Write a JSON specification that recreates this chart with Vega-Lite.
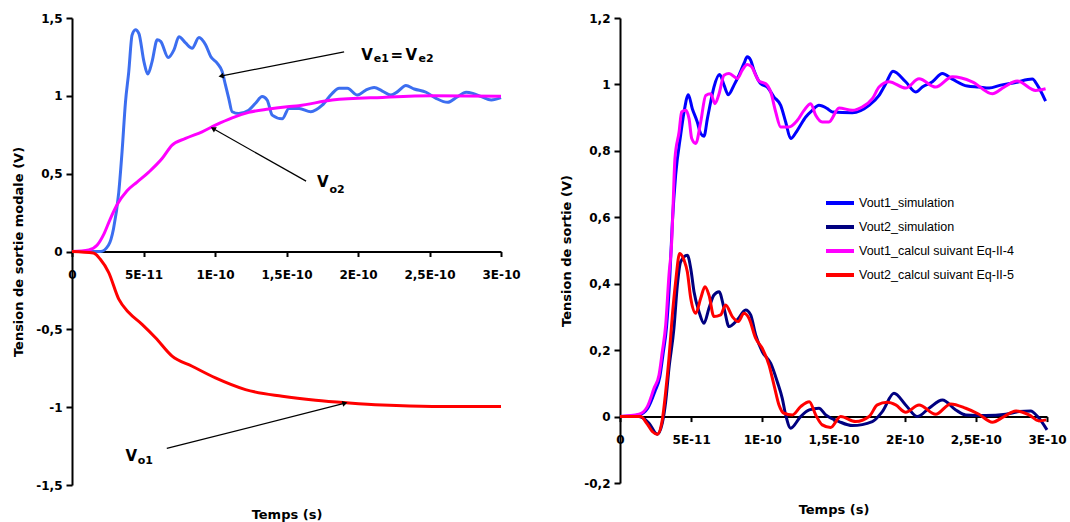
{
  "$schema": "https://vega.github.io/schema/vega-lite/v6.json",
  "background": "white",
  "padding": {"left": 12, "top": 12, "right": 0, "bottom": 0},
  "spacing": 119,
  "bounds": "flush",
  "datasets": {
    "ve": [
      {"t": 0, "v": 0}, {"t": 20e-12, "v": 0}, {"t": 25.5e-12, "v": 0.04}, {"t": 29e-12, "v": 0.145}, {"t": 32.7e-12, "v": 0.38},
      {"t": 35e-12, "v": 0.64}, {"t": 37.4e-12, "v": 0.96}, {"t": 39.7e-12, "v": 1.156}, {"t": 42e-12, "v": 1.39}, {"t": 44.4e-12, "v": 1.425},
      {"t": 46.8e-12, "v": 1.4}, {"t": 50.3e-12, "v": 1.22}, {"t": 53e-12, "v": 1.14}, {"t": 56e-12, "v": 1.22}, {"t": 59.6e-12, "v": 1.36},
      {"t": 62e-12, "v": 1.35}, {"t": 67.3e-12, "v": 1.246}, {"t": 71.3e-12, "v": 1.295}, {"t": 74.8e-12, "v": 1.38}, {"t": 79.4e-12, "v": 1.34},
      {"t": 84e-12, "v": 1.306}, {"t": 88.8e-12, "v": 1.375}, {"t": 93.4e-12, "v": 1.328}, {"t": 97e-12, "v": 1.253}, {"t": 101.5e-12, "v": 1.21},
      {"t": 105e-12, "v": 1.156}, {"t": 107.3e-12, "v": 1.07}, {"t": 109.6e-12, "v": 0.984}, {"t": 112e-12, "v": 0.898}, {"t": 116.6e-12, "v": 0.887},
      {"t": 123.6e-12, "v": 0.908}, {"t": 128.3e-12, "v": 0.952}, {"t": 133e-12, "v": 0.995}, {"t": 136.5e-12, "v": 0.973}, {"t": 140e-12, "v": 0.876},
      {"t": 147e-12, "v": 0.852}, {"t": 151.7e-12, "v": 0.919}, {"t": 158.8e-12, "v": 0.919}, {"t": 167e-12, "v": 0.898}, {"t": 175e-12, "v": 0.94},
      {"t": 182e-12, "v": 1.016}, {"t": 186.8e-12, "v": 1.048}, {"t": 192.6e-12, "v": 1.048}, {"t": 199.6e-12, "v": 1.005}, {"t": 205.5e-12, "v": 1.037},
      {"t": 211.3e-12, "v": 1.053}, {"t": 217e-12, "v": 1.031}, {"t": 223e-12, "v": 1.005}, {"t": 227.7e-12, "v": 1.027}, {"t": 233.5e-12, "v": 1.066},
      {"t": 239.3e-12, "v": 1.044}, {"t": 247.6e-12, "v": 1.023}, {"t": 254.6e-12, "v": 0.984}, {"t": 262.7e-12, "v": 0.958}, {"t": 269.7e-12, "v": 0.995},
      {"t": 275.6e-12, "v": 1.023}, {"t": 280.3e-12, "v": 1.016}, {"t": 286.2e-12, "v": 0.995}, {"t": 293.2e-12, "v": 0.973}, {"t": 300e-12, "v": 0.988}
    ],
    "vo2": [
      {"t": 0, "v": 0}, {"t": 11.7e-12, "v": 0.01}, {"t": 17.5e-12, "v": 0.04}, {"t": 22.2e-12, "v": 0.11}, {"t": 26.8e-12, "v": 0.21},
      {"t": 31.5e-12, "v": 0.3}, {"t": 38.5e-12, "v": 0.39}, {"t": 45.5e-12, "v": 0.446}, {"t": 53.7e-12, "v": 0.51}, {"t": 63e-12, "v": 0.597},
      {"t": 70e-12, "v": 0.683}, {"t": 79.4e-12, "v": 0.726}, {"t": 91e-12, "v": 0.769}, {"t": 100.3e-12, "v": 0.812}, {"t": 112e-12, "v": 0.859},
      {"t": 123.6e-12, "v": 0.894}, {"t": 137.6e-12, "v": 0.915}, {"t": 150.5e-12, "v": 0.93}, {"t": 158.6e-12, "v": 0.937}, {"t": 182e-12, "v": 0.973},
      {"t": 217e-12, "v": 0.99}, {"t": 252e-12, "v": 1.0}, {"t": 300e-12, "v": 0.997}
    ],
    "vo1": [
      {"t": 0, "v": 0}, {"t": 15e-12, "v": -0.01}, {"t": 19.8e-12, "v": -0.05}, {"t": 25.6e-12, "v": -0.134}, {"t": 32.7e-12, "v": -0.306},
      {"t": 39.7e-12, "v": -0.392}, {"t": 49e-12, "v": -0.468}, {"t": 58.4e-12, "v": -0.554}, {"t": 70e-12, "v": -0.672}, {"t": 84e-12, "v": -0.737},
      {"t": 100.3e-12, "v": -0.812}, {"t": 121.3e-12, "v": -0.887}, {"t": 147e-12, "v": -0.93}, {"t": 170.4e-12, "v": -0.956}, {"t": 193.8e-12, "v": -0.973},
      {"t": 217e-12, "v": -0.986}, {"t": 252e-12, "v": -0.995}, {"t": 300e-12, "v": -0.995}
    ],
    "arrows": [
      {"t": 190.3e-12, "v": 1.282, "t2": 104.8e-12, "v2": 1.128},
      {"t": 163.7e-12, "v": 0.452, "t2": 99.2e-12, "v2": 0.787},
      {"t": 66.3e-12, "v": -1.265, "t2": 190.3e-12, "v2": -0.976}
    ],
    "big": [
      {"t": 202.2e-12, "v": 1.232, "txt": "V"}, {"t": 222.7e-12, "v": 1.232, "txt": "="}, {"t": 233.2e-12, "v": 1.232, "txt": "V"},
      {"t": 171.4e-12, "v": 0.412, "txt": "V"}, {"t": 37.4e-12, "v": -1.347, "txt": "V"}
    ],
    "sub": [
      {"t": 211.1e-12, "v": 1.215, "txt": "e1"}, {"t": 242.3e-12, "v": 1.215, "txt": "e2"},
      {"t": 180.1e-12, "v": 0.379, "txt": "o2"}, {"t": 45.9e-12, "v": -1.368, "txt": "o1"}
    ],
    "vout1_sim": [
      {"t": 0, "v": 0}, {"t": 13.3e-12, "v": 0.005}, {"t": 19.5e-12, "v": 0.025}, {"t": 24.5e-12, "v": 0.075}, {"t": 28e-12, "v": 0.12},
      {"t": 30.3e-12, "v": 0.19}, {"t": 32.7e-12, "v": 0.27}, {"t": 35e-12, "v": 0.42}, {"t": 36.8e-12, "v": 0.586}, {"t": 39.1e-12, "v": 0.727},
      {"t": 42.6e-12, "v": 0.847}, {"t": 45e-12, "v": 0.917}, {"t": 48e-12, "v": 0.969}, {"t": 50.8e-12, "v": 0.927}, {"t": 54.3e-12, "v": 0.887},
      {"t": 56.7e-12, "v": 0.852}, {"t": 59e-12, "v": 0.844}, {"t": 61.4e-12, "v": 0.897}, {"t": 63.7e-12, "v": 0.947}, {"t": 66e-12, "v": 0.992},
      {"t": 70e-12, "v": 1.03}, {"t": 73.1e-12, "v": 0.998}, {"t": 76.1e-12, "v": 0.969}, {"t": 80.1e-12, "v": 0.998}, {"t": 83.6e-12, "v": 1.028},
      {"t": 87.1e-12, "v": 1.063}, {"t": 89.4e-12, "v": 1.083}, {"t": 91.8e-12, "v": 1.073}, {"t": 94.1e-12, "v": 1.043}, {"t": 98.9e-12, "v": 1.002},
      {"t": 103.5e-12, "v": 0.992}, {"t": 108.2e-12, "v": 0.962}, {"t": 112.9e-12, "v": 0.937}, {"t": 116.4e-12, "v": 0.887}, {"t": 119.9e-12, "v": 0.837},
      {"t": 124.6e-12, "v": 0.862}, {"t": 130.5e-12, "v": 0.902}, {"t": 135.1e-12, "v": 0.922}, {"t": 139.8e-12, "v": 0.937}, {"t": 145.7e-12, "v": 0.927},
      {"t": 149.2e-12, "v": 0.917}, {"t": 163.2e-12, "v": 0.915}, {"t": 175e-12, "v": 0.937}, {"t": 182e-12, "v": 0.967}, {"t": 186.7e-12, "v": 1.002},
      {"t": 191.8e-12, "v": 1.04}, {"t": 200.7e-12, "v": 1.008}, {"t": 207.8e-12, "v": 0.977}, {"t": 212.4e-12, "v": 0.992}, {"t": 219.5e-12, "v": 1.008},
      {"t": 226.5e-12, "v": 1.033}, {"t": 233.5e-12, "v": 1.016}, {"t": 244e-12, "v": 0.995}, {"t": 252.2e-12, "v": 0.992}, {"t": 259.3e-12, "v": 0.989},
      {"t": 267.5e-12, "v": 0.998}, {"t": 278e-12, "v": 1.006}, {"t": 289.7e-12, "v": 1.016}, {"t": 293.2e-12, "v": 0.998}, {"t": 299e-12, "v": 0.95}
    ],
    "vout2_sim": [
      {"t": 0, "v": 0}, {"t": 13.3e-12, "v": 0}, {"t": 20.4e-12, "v": -0.02}, {"t": 26.2e-12, "v": -0.053}, {"t": 29.7e-12, "v": -0.02},
      {"t": 32.1e-12, "v": 0.045}, {"t": 34.4e-12, "v": 0.145}, {"t": 37.9e-12, "v": 0.266}, {"t": 40.3e-12, "v": 0.396}, {"t": 42.6e-12, "v": 0.466},
      {"t": 47.3e-12, "v": 0.486}, {"t": 49.7e-12, "v": 0.446}, {"t": 52e-12, "v": 0.376}, {"t": 55.5e-12, "v": 0.316}, {"t": 59e-12, "v": 0.281},
      {"t": 62.5e-12, "v": 0.326}, {"t": 66e-12, "v": 0.366}, {"t": 69.6e-12, "v": 0.376}, {"t": 73.1e-12, "v": 0.326}, {"t": 76.6e-12, "v": 0.271},
      {"t": 82.4e-12, "v": 0.291}, {"t": 88.3e-12, "v": 0.321}, {"t": 91.8e-12, "v": 0.306}, {"t": 95.3e-12, "v": 0.246}, {"t": 100e-12, "v": 0.195},
      {"t": 105.9e-12, "v": 0.16}, {"t": 110.5e-12, "v": 0.105}, {"t": 114e-12, "v": 0.055}, {"t": 116.4e-12, "v": 0.005}, {"t": 119.9e-12, "v": -0.035},
      {"t": 126.9e-12, "v": 0}, {"t": 133e-12, "v": 0.02}, {"t": 139.8e-12, "v": 0.025}, {"t": 144.5e-12, "v": 0.005}, {"t": 153.9e-12, "v": -0.015},
      {"t": 163.2e-12, "v": -0.027}, {"t": 177.3e-12, "v": -0.015}, {"t": 184.3e-12, "v": 0.015}, {"t": 192.5e-12, "v": 0.07}, {"t": 200.7e-12, "v": 0.035},
      {"t": 208.9e-12, "v": 0}, {"t": 217.1e-12, "v": 0.025}, {"t": 226.5e-12, "v": 0.05}, {"t": 235.9e-12, "v": 0.02}, {"t": 242.9e-12, "v": 0.005},
      {"t": 257e-12, "v": 0.003}, {"t": 271e-12, "v": 0.007}, {"t": 280.3e-12, "v": 0.015}, {"t": 288.6e-12, "v": 0.017}, {"t": 293.4e-12, "v": 0},
      {"t": 300e-12, "v": -0.04}
    ],
    "vout1_calc": [
      {"t": 0, "v": 0}, {"t": 13.3e-12, "v": 0.007}, {"t": 19.2e-12, "v": 0.03}, {"t": 23.9e-12, "v": 0.085}, {"t": 27.4e-12, "v": 0.125},
      {"t": 29.7e-12, "v": 0.195}, {"t": 32.1e-12, "v": 0.276}, {"t": 34.4e-12, "v": 0.426}, {"t": 36.3e-12, "v": 0.526}, {"t": 37e-12, "v": 0.6},
      {"t": 38.6e-12, "v": 0.777}, {"t": 41.5e-12, "v": 0.857}, {"t": 43.3e-12, "v": 0.917}, {"t": 46.2e-12, "v": 0.922}, {"t": 48.5e-12, "v": 0.897},
      {"t": 50.4e-12, "v": 0.837}, {"t": 53.2e-12, "v": 0.822}, {"t": 56.7e-12, "v": 0.887}, {"t": 60.2e-12, "v": 0.967}, {"t": 63.7e-12, "v": 0.972},
      {"t": 66.7e-12, "v": 0.942}, {"t": 69.6e-12, "v": 0.972}, {"t": 73.1e-12, "v": 1.028}, {"t": 76.6e-12, "v": 1.033}, {"t": 82.4e-12, "v": 1.018},
      {"t": 85.9e-12, "v": 1.043}, {"t": 89.4e-12, "v": 1.06}, {"t": 92.5e-12, "v": 1.053}, {"t": 95.3e-12, "v": 1.028}, {"t": 97.7e-12, "v": 1.01},
      {"t": 102.4e-12, "v": 1.002}, {"t": 105.9e-12, "v": 0.977}, {"t": 109.4e-12, "v": 0.917}, {"t": 112.9e-12, "v": 0.872}, {"t": 118.7e-12, "v": 0.872},
      {"t": 124.6e-12, "v": 0.892}, {"t": 129.3e-12, "v": 0.922}, {"t": 134e-12, "v": 0.942}, {"t": 137.5e-12, "v": 0.907}, {"t": 142.1e-12, "v": 0.887},
      {"t": 146.8e-12, "v": 0.887}, {"t": 153.9e-12, "v": 0.929}, {"t": 163.2e-12, "v": 0.922}, {"t": 170.2e-12, "v": 0.932}, {"t": 177.3e-12, "v": 0.957},
      {"t": 182e-12, "v": 0.992}, {"t": 189e-12, "v": 1.008}, {"t": 200.7e-12, "v": 0.989}, {"t": 210.1e-12, "v": 1.017}, {"t": 221.8e-12, "v": 0.992},
      {"t": 233.5e-12, "v": 1.023}, {"t": 247.5e-12, "v": 1.008}, {"t": 261.6e-12, "v": 0.972}, {"t": 269.8e-12, "v": 0.992}, {"t": 279.1e-12, "v": 1.01},
      {"t": 292e-12, "v": 0.982}, {"t": 299e-12, "v": 0.987}
    ],
    "vout2_calc": [
      {"t": 0, "v": 0}, {"t": 14.5e-12, "v": 0}, {"t": 19.2e-12, "v": -0.023}, {"t": 22.7e-12, "v": -0.045}, {"t": 26.2e-12, "v": -0.053},
      {"t": 29.7e-12, "v": -0.01}, {"t": 32.1e-12, "v": 0.075}, {"t": 34.4e-12, "v": 0.175}, {"t": 36.8e-12, "v": 0.306}, {"t": 39.1e-12, "v": 0.406},
      {"t": 41.9e-12, "v": 0.491}, {"t": 45e-12, "v": 0.471}, {"t": 47.3e-12, "v": 0.436}, {"t": 49.7e-12, "v": 0.356}, {"t": 53.2e-12, "v": 0.311},
      {"t": 56.7e-12, "v": 0.356}, {"t": 59.7e-12, "v": 0.391}, {"t": 62.5e-12, "v": 0.366}, {"t": 66e-12, "v": 0.301}, {"t": 70.7e-12, "v": 0.306},
      {"t": 74.2e-12, "v": 0.336}, {"t": 78.9e-12, "v": 0.301}, {"t": 83.1e-12, "v": 0.286}, {"t": 87.1e-12, "v": 0.311}, {"t": 90.6e-12, "v": 0.296},
      {"t": 95.3e-12, "v": 0.236}, {"t": 100e-12, "v": 0.205}, {"t": 104.7e-12, "v": 0.155}, {"t": 108.2e-12, "v": 0.095}, {"t": 111.7e-12, "v": 0.035},
      {"t": 115.2e-12, "v": 0.01}, {"t": 121.1e-12, "v": 0.005}, {"t": 126.9e-12, "v": 0.03}, {"t": 133e-12, "v": 0.045}, {"t": 137.5e-12, "v": 0.005},
      {"t": 142.1e-12, "v": -0.025}, {"t": 148e-12, "v": -0.033}, {"t": 155e-12, "v": 0}, {"t": 165.6e-12, "v": -0.015}, {"t": 175e-12, "v": 0},
      {"t": 180.8e-12, "v": 0.035}, {"t": 187.8e-12, "v": 0.043}, {"t": 193.7e-12, "v": 0.035}, {"t": 200.7e-12, "v": 0.013}, {"t": 210.1e-12, "v": 0.035},
      {"t": 221.8e-12, "v": 0.007}, {"t": 232.3e-12, "v": 0.038}, {"t": 242.9e-12, "v": 0.025}, {"t": 252.2e-12, "v": 0.007}, {"t": 261.6e-12, "v": -0.017},
      {"t": 269.8e-12, "v": 0}, {"t": 278e-12, "v": 0.017}, {"t": 287.4e-12, "v": 0.005}, {"t": 294.4e-12, "v": -0.013}, {"t": 299.4e-12, "v": -0.01}
    ]
  },
  "hconcat": [
    {
      "width": 429,
      "height": 467,
      "layer": [
        {
          "data": {"name": "ve"},
          "mark": {"type": "line", "color": "#3C6EF0", "strokeWidth": 3, "interpolate": "monotone"},
          "encoding": {
            "x": {"field": "t", "type": "quantitative", "scale": {"domain": [0, 3e-10], "nice": false, "zero": false},
              "axis": {"title": "Temps (s)", "values": [0, 5e-11, 1e-10, 1.5e-10, 2e-10, 2.5e-10, 3e-10], "offset": -233.5, "titleY": 257,
                "labelOverlap": false, "labelFlush": false, "labelPadding": 13,
                "labelExpr": "round(datum.value*1e12)==0?'0':round(datum.value*1e12)==50?'5E-11':round(datum.value*1e12)==100?'1E-10':round(datum.value*1e12)==150?'1,5E-10':round(datum.value*1e12)==200?'2E-10':round(datum.value*1e12)==250?'2,5E-10':'3E-10'"}},
            "y": {"field": "v", "type": "quantitative", "scale": {"domain": [-1.5, 1.5], "nice": false},
              "axis": {"title": "Tension de sortie modale (V)", "values": [-1.5, -1, -0.5, 0, 0.5, 1, 1.5], "labelOverlap": false, "labelFlush": false,
                "labelExpr": "(datum.value < 0 ? '-' : '') + replace(format(abs(datum.value), '~g'), '.', ',')"}}
          }
        },
        {
          "data": {"name": "vo2"},
          "mark": {"type": "line", "color": "#FF00FF", "strokeWidth": 3, "interpolate": "monotone"},
          "encoding": {"x": {"field": "t", "type": "quantitative"}, "y": {"field": "v", "type": "quantitative"}}
        },
        {
          "data": {"name": "vo1"},
          "mark": {"type": "line", "color": "#FF0000", "strokeWidth": 3, "interpolate": "monotone"},
          "encoding": {"x": {"field": "t", "type": "quantitative"}, "y": {"field": "v", "type": "quantitative"}}
        },
        {
          "data": {"name": "arrows"},
          "mark": {"type": "rule", "color": "#000000", "strokeWidth": 1.2},
          "encoding": {"x": {"field": "t", "type": "quantitative"}, "y": {"field": "v", "type": "quantitative"},
            "x2": {"field": "t2"}, "y2": {"field": "v2"}}
        },
        {
          "data": {"values": [{"t": 104.8e-12, "v": 1.128}]},
          "mark": {"type": "point", "shape": "triangle", "filled": true, "color": "#000000", "size": 35, "angle": 259, "opacity": 1},
          "encoding": {"x": {"field": "t", "type": "quantitative"}, "y": {"field": "v", "type": "quantitative"}}
        },
        {
          "data": {"values": [{"t": 99.2e-12, "v": 0.787}]},
          "mark": {"type": "point", "shape": "triangle", "filled": true, "color": "#000000", "size": 35, "angle": 299, "opacity": 1},
          "encoding": {"x": {"field": "t", "type": "quantitative"}, "y": {"field": "v", "type": "quantitative"}}
        },
        {
          "data": {"values": [{"t": 190.3e-12, "v": -0.976}]},
          "mark": {"type": "point", "shape": "triangle", "filled": true, "color": "#000000", "size": 35, "angle": 76, "opacity": 1},
          "encoding": {"x": {"field": "t", "type": "quantitative"}, "y": {"field": "v", "type": "quantitative"}}
        },
        {
          "data": {"name": "big"},
          "mark": {"type": "text", "font": "DejaVu Sans", "fontWeight": "bold", "fontSize": 15, "align": "left", "baseline": "alphabetic", "color": "#000000"},
          "encoding": {"x": {"field": "t", "type": "quantitative"}, "y": {"field": "v", "type": "quantitative"}, "text": {"field": "txt"}}
        },
        {
          "data": {"name": "sub"},
          "mark": {"type": "text", "font": "DejaVu Sans", "fontWeight": "bold", "fontSize": 11, "align": "left", "baseline": "alphabetic", "color": "#000000"},
          "encoding": {"x": {"field": "t", "type": "quantitative"}, "y": {"field": "v", "type": "quantitative"}, "text": {"field": "txt"}}
        }
      ]
    },
    {
      "width": 427,
      "height": 465,
      "encoding": {
        "x": {"field": "t", "type": "quantitative", "scale": {"domain": [0, 3e-10], "nice": false, "zero": false},
          "axis": {"title": "Temps (s)", "values": [0, 5e-11, 1e-10, 1.5e-10, 2e-10, 2.5e-10, 3e-10], "offset": -66.43, "titleY": 87,
            "labelOverlap": false, "labelFlush": false, "labelPadding": 13,
            "labelExpr": "round(datum.value*1e12)==0?'0':round(datum.value*1e12)==50?'5E-11':round(datum.value*1e12)==100?'1E-10':round(datum.value*1e12)==150?'1,5E-10':round(datum.value*1e12)==200?'2E-10':round(datum.value*1e12)==250?'2,5E-10':'3E-10'"}},
        "y": {"field": "v", "type": "quantitative", "scale": {"domain": [-0.2, 1.2], "nice": false},
          "axis": {"title": "Tension de sortie (V)", "values": [-0.2, 0, 0.2, 0.4, 0.6, 0.8, 1, 1.2], "labelOverlap": false, "labelFlush": false,
            "labelExpr": "(datum.value < 0 ? '-' : '') + replace(format(abs(datum.value), '~g'), '.', ',')"}}
      },
      "layer": [
        {
          "data": {"name": "vout1_sim"},
          "mark": {"type": "line", "strokeWidth": 3, "interpolate": "monotone"},
          "encoding": {"color": {"datum": "Vout1_simulation", "type": "nominal",
            "scale": {"domain": ["Vout1_simulation", "Vout2_simulation", "Vout1_calcul suivant Eq-II-4", "Vout2_calcul suivant Eq-II-5"],
              "range": ["#0000FF", "#000080", "#FF00FF", "#FF0000"]},
            "legend": {"orient": "none", "legendX": 752, "legendY": 169, "title": null, "symbolType": "stroke", "symbolSize": 784,
              "symbolStrokeWidth": 4, "labelFont": "Liberation Sans", "labelFontSize": 12.5, "labelColor": "#000000", "rowPadding": 0,
              "labelOffset": 3, "padding": 0}}}
        },
        {
          "data": {"name": "vout2_sim"},
          "mark": {"type": "line", "strokeWidth": 3, "interpolate": "monotone"},
          "encoding": {"color": {"datum": "Vout2_simulation", "type": "nominal"}}
        },
        {
          "data": {"name": "vout1_calc"},
          "mark": {"type": "line", "strokeWidth": 3, "interpolate": "monotone"},
          "encoding": {"color": {"datum": "Vout1_calcul suivant Eq-II-4", "type": "nominal"}}
        },
        {
          "data": {"name": "vout2_calc"},
          "mark": {"type": "line", "strokeWidth": 3, "interpolate": "monotone"},
          "encoding": {"color": {"datum": "Vout2_calcul suivant Eq-II-5", "type": "nominal"}}
        }
      ]
    }
  ],
  "config": {
    "view": {"stroke": null},
    "axis": {
      "grid": false, "domainColor": "#000000", "domainWidth": 2, "tickColor": "#000000", "tickWidth": 2,
      "labelFont": "DejaVu Sans", "labelFontWeight": "bold", "labelFontSize": 12, "labelColor": "#000000",
      "titleFont": "DejaVu Sans", "titleFontWeight": "bold", "titleFontSize": 13, "titleColor": "#000000"
    },
    "axisX": {"tickSize": 5},
    "axisY": {"tickSize": 6, "labelPadding": 4, "titlePadding": 10}
  }
}
